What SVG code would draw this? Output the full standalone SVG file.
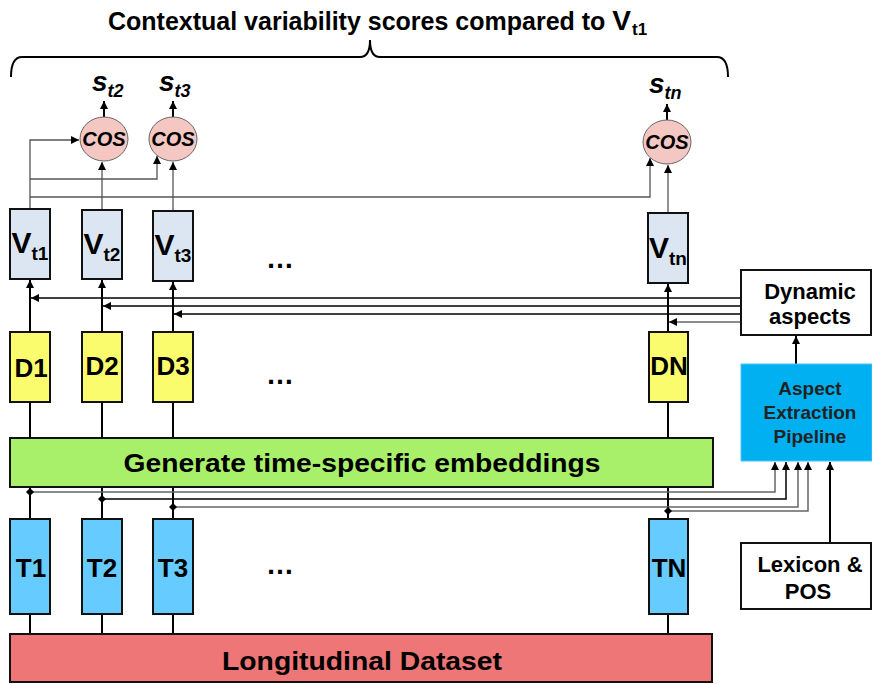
<svg xmlns="http://www.w3.org/2000/svg" width="872" height="684" viewBox="0 0 872 684">
<style>
text{font-family:"Liberation Sans",Arial,sans-serif;font-weight:bold;fill:#000}
.bx{stroke:#111;stroke-width:2}
.v{fill:#dce6f2}
.d{fill:#fbfb6e}
.tb{fill:#66ccff}
.c{fill:#f4c7c3;stroke:#666;stroke-width:1}
.ln{fill:none;stroke:#000;stroke-width:2}
.th{fill:none;stroke:#555;stroke-width:1.3}
.tk{fill:none;stroke:#000;stroke-width:1.5}
.tg{fill:none;stroke:#666;stroke-width:1.5}
.lbl{font-size:26px;text-anchor:middle}
.vl{font-size:30px;text-anchor:middle}
.wb{font-size:22px;text-anchor:middle}
.sl{font-size:28px;font-style:italic}
.cs{font-size:20px;font-style:italic;text-anchor:middle}
.pp{font-size:19px;text-anchor:middle;fill:#222}
</style>
<defs>
<marker id="ah" viewBox="0 0 10 10" refX="10" refY="5" markerWidth="8" markerHeight="8" markerUnits="userSpaceOnUse" orient="auto"><path d="M0,0 L10,5 L0,10 z" fill="#000"/></marker>
<path id="dot" d="M0,-4 L4,0 L0,4 L-4,0 z" fill="#000"/>
</defs>

<g id="title">
<text x="108" y="30" font-size="25">Contextual variability scores compared to <tspan font-size="28">V</tspan><tspan font-size="17" dx="1" dy="5">t1</tspan></text>
<path d="M11,77 Q11,57 22,57 L360,57 Q370,57 370,40 Q370,57 380,57 L717,57 Q728,57 728,77" fill="none" stroke="#000" stroke-width="2"/>
</g>

<g id="connectors">
<path class="th" d="M30,209 V140 H79" marker-end="url(#ah)"/>
<path class="th" d="M30,179 H157 V156" marker-end="url(#ah)"/>
<path class="th" d="M30,197 H650 V158" marker-end="url(#ah)"/>
<path class="th" d="M102,210 V162" marker-end="url(#ah)"/>
<path class="th" d="M173,211 V162" marker-end="url(#ah)"/>
<path class="th" d="M668,213 V165" marker-end="url(#ah)"/>
<path class="ln" d="M104,117 V101" marker-end="url(#ah)"/>
<path class="ln" d="M173,117 V101" marker-end="url(#ah)"/>
<path class="ln" d="M667,120 V104" marker-end="url(#ah)"/>

<path class="tk" d="M741,298 H31" marker-end="url(#ah)"/>
<path class="tk" d="M741,306 H103" marker-end="url(#ah)"/>
<path class="tk" d="M741,314 H174" marker-end="url(#ah)"/>
<path class="tg" d="M741,322 H669" marker-end="url(#ah)"/>

<path class="ln" d="M30,332 V280" marker-end="url(#ah)"/>
<path class="ln" d="M102,332 V280" marker-end="url(#ah)"/>
<path class="ln" d="M173,332 V282" marker-end="url(#ah)"/>
<path class="ln" d="M668,332 V284" marker-end="url(#ah)"/>

<path class="ln" d="M30,402 V438 M102,402 V438 M173,402 V438 M668,402 V438"/>
<path class="ln" d="M30,487 V519 M102,487 V519 M173,487 V519 M668,487 V519"/>
<path class="ln" d="M30,614 V634 M102,614 V634 M173,614 V634 M668,614 V634"/>

<path class="tg" d="M30,492 H775 V462" marker-end="url(#ah)"/>
<path class="tk" d="M102,499 H786 V462" marker-end="url(#ah)"/>
<path class="tg" d="M173,507 H798 V462" marker-end="url(#ah)"/>
<path class="tg" d="M668,511 H808 V462" marker-end="url(#ah)"/>
<use href="#dot" x="30" y="492"/>
<use href="#dot" x="102" y="499"/>
<use href="#dot" x="173" y="507"/>
<use href="#dot" x="668" y="511"/>

<path class="ln" d="M796,364 V336" marker-end="url(#ah)"/>
<path class="ln" d="M830,543 V462" marker-end="url(#ah)"/>
</g>

<g id="s_t2"><text class="sl" x="92" y="91">s<tspan font-size="18" dy="6">t2</tspan></text></g>
<g id="s_t3"><text class="sl" x="159" y="91">s<tspan font-size="18" dy="6">t3</tspan></text></g>
<g id="s_tn"><text class="sl" x="649" y="93">s<tspan font-size="18" dy="6">tn</tspan></text></g>

<g id="cos1"><ellipse class="c" cx="104" cy="139" rx="24" ry="22"/><text class="cs" x="104" y="146">COS</text></g>
<g id="cos2"><ellipse class="c" cx="173" cy="139" rx="24" ry="22"/><text class="cs" x="173" y="146">COS</text></g>
<g id="cosN"><ellipse class="c" cx="667" cy="142" rx="24" ry="22"/><text class="cs" x="667" y="149">COS</text></g>

<g id="Vt1"><rect class="bx v" x="10" y="209" width="40" height="70"/><text class="vl" x="30" y="253">V<tspan font-size="19" dy="7">t1</tspan></text></g>
<g id="Vt2"><rect class="bx v" x="82" y="210" width="40" height="69"/><text class="vl" x="102" y="254">V<tspan font-size="19" dy="7">t2</tspan></text></g>
<g id="Vt3"><rect class="bx v" x="153" y="211" width="40" height="70"/><text class="vl" x="173" y="255">V<tspan font-size="19" dy="7">t3</tspan></text></g>
<g id="VtN"><rect class="bx v" x="648" y="213" width="40" height="70"/><text class="vl" x="668" y="258">V<tspan font-size="19" dy="7">tn</tspan></text></g>

<g id="D1"><rect class="bx d" x="10" y="332" width="40" height="70"/><text class="lbl" x="31" y="377">D1</text></g>
<g id="D2"><rect class="bx d" x="82" y="332" width="40" height="70"/><text class="lbl" x="102" y="375">D2</text></g>
<g id="D3"><rect class="bx d" x="153" y="332" width="40" height="70"/><text class="lbl" x="173" y="375">D3</text></g>
<g id="DN"><rect class="bx d" x="649" y="332" width="39" height="70"/><text class="lbl" x="669" y="375">DN</text></g>

<g id="generate"><rect class="bx" fill="#a9f06a" x="10" y="438" width="703" height="49"/><text x="362" y="472" font-size="26" text-anchor="middle" textLength="477" lengthAdjust="spacingAndGlyphs">Generate time-specific embeddings</text></g>

<g id="T1"><rect class="bx tb" x="10" y="519" width="40" height="95"/><text class="lbl" x="31" y="577">T1</text></g>
<g id="T2"><rect class="bx tb" x="82" y="519" width="40" height="95"/><text class="lbl" x="102" y="577">T2</text></g>
<g id="T3"><rect class="bx tb" x="153" y="519" width="40" height="95"/><text class="lbl" x="173" y="577">T3</text></g>
<g id="TN"><rect class="bx tb" x="649" y="519" width="39" height="95"/><text class="lbl" x="669" y="577">TN</text></g>

<g id="dataset"><rect class="bx" fill="#ee7676" x="10" y="634" width="702" height="48"/><text x="362" y="670" font-size="26" text-anchor="middle" textLength="280" lengthAdjust="spacingAndGlyphs">Longitudinal Dataset</text></g>

<g id="ellipsis">
<text x="280" y="268" font-size="28" text-anchor="middle">…</text>
<text x="280" y="384" font-size="28" text-anchor="middle">…</text>
<text x="280" y="574" font-size="28" text-anchor="middle">…</text>
</g>

<g id="dynamic"><rect class="bx" fill="#fff" x="741" y="270" width="130" height="65"/><text class="wb" x="810" y="299">Dynamic</text><text class="wb" x="810" y="324">aspects</text></g>

<g id="pipeline"><rect fill="#00b0f0" stroke="#4fc3f7" stroke-width="1" x="741" y="364" width="131" height="97"/>
<text class="pp" x="810" y="395">Aspect</text>
<text class="pp" x="810" y="419">Extraction</text>
<text class="pp" x="810" y="443">Pipeline</text></g>

<g id="lexicon"><rect class="bx" fill="#fff" x="741" y="543" width="130" height="66"/><text class="wb" x="810" y="572">Lexicon &amp;</text><text class="wb" x="808" y="599">POS</text></g>
</svg>
